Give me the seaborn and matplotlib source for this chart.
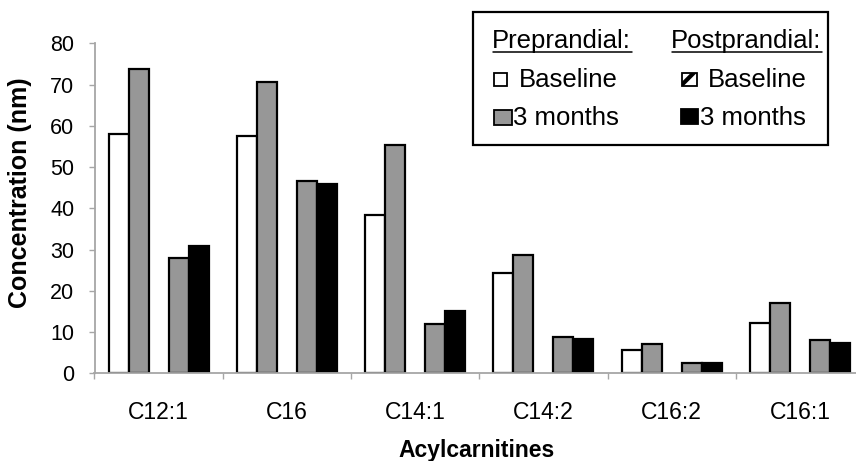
import numpy as np
import pandas as pd
import matplotlib
matplotlib.use("Agg")
import matplotlib.pyplot as plt
import seaborn as sns
from matplotlib.patches import Rectangle
from matplotlib.lines import Line2D

# ---- data ----
categories = ["C12:1", "C16", "C14:1", "C14:2", "C16:2", "C16:1"]
pre_baseline = [58, 57.6, 38.5, 24.3, 5.7, 12.2]
pre_3months = [73.8, 70.7, 55.3, 28.8, 7.2, 17.0]
post_baseline = [27.9, 46.6, 12.0, 8.7, 2.4, 8.0]
post_3months = [30.8, 46.0, 15.0, 8.2, 2.5, 7.3]
y_ticks = [0, 10, 20, 30, 40, 50, 60, 70, 80]

series_names = ["Pre Baseline", "Pre 3 months", "gap", "Post Baseline", "Post 3 months"]
rows = []
for name, vals in zip(["Pre Baseline", "Pre 3 months", "Post Baseline", "Post 3 months"],
                      [pre_baseline, pre_3months, post_baseline, post_3months]):
    for c, v in zip(categories, vals):
        rows.append({"cat": c, "series": name, "value": v})
df = pd.DataFrame(rows)

GRAY = "#979797"
palette = {"Pre Baseline": "white", "Pre 3 months": GRAY, "gap": "white",
           "Post Baseline": GRAY, "Post 3 months": "black"}

sns.set_style("white")
plt.rcParams["font.family"] = ["Liberation Sans", "DejaVu Sans"]
plt.rcParams["text.color"] = "black"
plt.rcParams["axes.labelcolor"] = "black"
plt.rcParams["xtick.labelcolor"] = "black"
plt.rcParams["ytick.labelcolor"] = "black"

W, H = 856, 461
fig = plt.figure(figsize=(W / 100, H / 100), dpi=100)

def fx(x):
    return x / W

def fy(y):
    return 1 - y / H

ax_left, ax_right, ax_top, ax_bot = 94.5, 856, 43.5, 373.3
ax = fig.add_axes([fx(ax_left), fy(ax_bot), fx(ax_right - ax_left), (ax_bot - ax_top) / H])

sns.barplot(data=df, x="cat", y="value", hue="series", order=categories,
            hue_order=series_names, palette=palette, width=0.78, gap=0,
            edgecolor="black", linewidth=1.6, errorbar=None, legend=False, ax=ax,
            saturation=1)

ax.set_ylim(0, 80)
ax.set_xlim(-0.5, 5.5 - 8 / 128)
ax.set_yticks(y_ticks)
ax.set_yticklabels([str(t) for t in y_ticks])

# category boundary ticks (major) and labels at centers (minor)
ax.set_xticks([i - 0.5 for i in range(len(categories))])
ax.set_xticklabels([""] * len(categories))
ax.set_xticks(list(range(len(categories))), minor=True)
ax.set_xticklabels(categories, minor=True)

for s in ["top", "right"]:
    ax.spines[s].set_visible(False)
for s in ["left", "bottom"]:
    ax.spines[s].set_color("#a6a6a6")
    ax.spines[s].set_linewidth(1.3)

ax.tick_params(axis="y", which="major", direction="out", length=4.5, width=1.0,
               color="#a6a6a6", pad=10, labelsize=15.5, left=True, labelcolor="black")
ax.tick_params(axis="x", which="major", direction="out", length=4.5, width=1.0,
               color="#a6a6a6", bottom=True)
ax.tick_params(axis="x", which="minor", length=0, pad=20, labelsize=16.5, labelcolor="black")

ax.set_xlabel("Acylcarnitines", fontsize=16.5, fontweight="bold", color="black")
ax.set_ylabel("Concentration (nm)", fontsize=18, fontweight="bold", color="black")
ax.xaxis.set_label_coords(fx(476.5), fy(450), transform=fig.transFigure)
ax.xaxis.label.set_va("center")
ax.yaxis.set_label_coords(fx(20.5), fy(193), transform=fig.transFigure)
ax.yaxis.label.set_va("center")
ax.yaxis.label.set_ha("center")
ax.grid(False)

# ---- custom legend ----
fig.patches.append(Rectangle((fx(473), fy(145)), fx(828 - 473), (145 - 12) / H,
                             transform=fig.transFigure, facecolor="white",
                             edgecolor="black", linewidth=1.6, zorder=5))

leg_fs = 18.5
def legend_text(x, y, s):
    fig.text(fx(x), fy(y), s, fontsize=leg_fs, ha="left", va="center", zorder=6,
             color="black")

legend_text(492, 41, "Preprandial:")
legend_text(671, 41, "Postprandial:")
fig.lines.append(Line2D([fx(493), fx(632)], [fy(52), fy(52)], transform=fig.transFigure,
                        color="black", linewidth=1.1, zorder=6))
fig.lines.append(Line2D([fx(672), fx(822)], [fy(52), fy(52)], transform=fig.transFigure,
                        color="black", linewidth=1.1, zorder=6))

def legend_square(x0, y0, x1, y1, fc, hatch=None):
    fig.patches.append(Rectangle((fx(x0), fy(y1)), fx(x1 - x0), (y1 - y0) / H,
                                 transform=fig.transFigure, facecolor=fc,
                                 edgecolor="black", linewidth=1.3, hatch=hatch, zorder=6))

plt.rcParams["hatch.linewidth"] = 3.0
legend_square(494, 73, 507, 86, "white")
legend_text(519, 80, "Baseline")
legend_square(682, 73, 697, 86, "white", hatch="/")
legend_text(708, 80, "Baseline")
legend_square(494, 110, 512, 125, GRAY)
legend_text(513, 118, "3 months")
legend_square(681, 109, 698, 124, "black")
legend_text(700, 118, "3 months")

fig.savefig("out.png", dpi=100)
